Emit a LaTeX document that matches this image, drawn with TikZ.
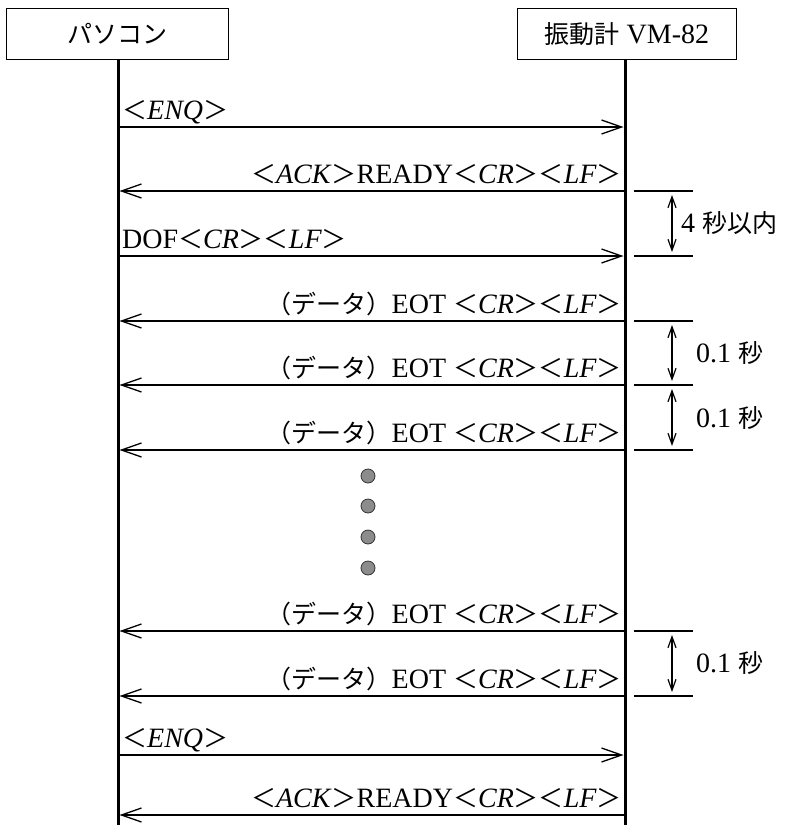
\documentclass[tikz,border=0pt]{standalone}
\usepackage{fontspec}
\setmainfont[Scale=1.12]{Liberation Serif}
\newfontfamily\jp{Noto Sans CJK JP}
\usetikzlibrary{arrows.meta}
\newcommand{\ltb}{{\jp ＜}}
\newcommand{\gtb}{{\jp ＞}}
\newcommand{\crlf}{\ltb\textit{CR}\gtb\ltb\textit{LF}\gtb}
\newcommand{\datamsg}{{\jp （データ）}EOT \crlf}
\newcommand{\ackmsg}{\ltb\textit{ACK}\gtb READY\crlf}
\begin{document}
\begin{tikzpicture}[x=1pt,y=-1pt,
  every node/.style={font=\fontsize{25}{30}\selectfont, inner sep=0pt},
  actor/.style={draw, line width=0.9pt, minimum height=51pt, anchor=north west},
  life/.style={line width=3pt},
  msg/.style={line width=1.3pt, -{Straight Barb[length=20pt,width=14pt,line width=1.3pt]}},
  lbl/.style={anchor=base east},
  lblL/.style={anchor=base west},
  tick/.style={line width=1.2pt},
  dim/.style={line width=1.2pt, {Straight Barb[length=11pt,width=8pt]}-{Straight Barb[length=11pt,width=8pt]}},
  dimlbl/.style={anchor=west},
  dot/.style={circle, draw=black!80, fill=black!45, line width=0.8pt, minimum size=14pt}]
\useasboundingbox (0,0) rectangle (786,825);
% actors
\node[actor, minimum width=222pt] (pc) at (6,8) {};
\node[font=\fontsize{25}{30}\jp] at (pc.center) {パソコン};
\node[actor, minimum width=219pt] (vm) at (517,8) {};
\node at (vm.center) {{\jp 振動計} VM-82};
% lifeline coordinates
\coordinate (pcend) at (118,825);
\coordinate (vmend) at (625,825);
\coordinate (pctop) at (118,59);
\coordinate (vmtop) at (625,59);
\draw[life] (pctop) -- (pcend);
\draw[life] (vmtop) -- (vmend);
% message coordinates
\foreach \n/\y in {1/127,2/191,3/256,4/321,5/385,6/450,7/631,8/696,9/755,10/815}{
  \coordinate (L\n) at (119.5,\y);
  \coordinate (R\n) at (623.5,\y);
}
\draw[msg] (L1) -- (R1);
\node[lblL] (m1) at (122,119) {\ltb\textit{ENQ}\gtb};
\draw[msg] (R2) -- (L2);
\node[lbl] (m2) at (622,183) {\ackmsg};
\draw[msg] (L3) -- (R3);
\node[lblL] (m3) at (122,248) {DOF\crlf};
\draw[msg] (R4) -- (L4);
\node[lbl] (m4) at (622,313) {\datamsg};
\draw[msg] (R5) -- (L5);
\node[lbl] (m5) at (622,377) {\datamsg};
\draw[msg] (R6) -- (L6);
\node[lbl] (m6) at (622,442) {\datamsg};
\draw[msg] (R7) -- (L7);
\node[lbl] (m7) at (622,623) {\datamsg};
\draw[msg] (R8) -- (L8);
\node[lbl] (m8) at (622,688) {\datamsg};
\draw[msg] (L9) -- (R9);
\node[lblL] (m9) at (122,747) {\ltb\textit{ENQ}\gtb};
\draw[msg] (R10) -- (L10);
\node[lbl] (m10) at (622,807) {\ackmsg};
% dots
\node[dot] (d1) at (368,476) {};
\node[dot] (d2) at (368,506) {};
\node[dot] (d3) at (368,537) {};
\node[dot] (d4) at (368,568) {};
% timing ticks
\foreach \n/\y in {2/191,3/256,4/321,5/385,6/450,7/631,8/696}{
  \coordinate (ta\n) at (634,\y);
  \coordinate (tb\n) at (693,\y);
  \draw[tick] (ta\n) -- (tb\n);
  \coordinate (dt\n) at (672,\y+4);
  \coordinate (db\n) at (672,\y-4);
}
\draw[dim] (dt2) -- (db3);
\node[dimlbl] (t1) at (681,223) {4 {\jp 秒以内}};
\draw[dim] (dt4) -- (db5);
\node[dimlbl] (t2) at (696,353) {0.1 {\jp 秒}};
\draw[dim] (dt5) -- (db6);
\node[dimlbl] (t3) at (696,418) {0.1 {\jp 秒}};
\draw[dim] (dt7) -- (db8);
\node[dimlbl] (t4) at (696,663) {0.1 {\jp 秒}};
\end{tikzpicture}
\end{document}
